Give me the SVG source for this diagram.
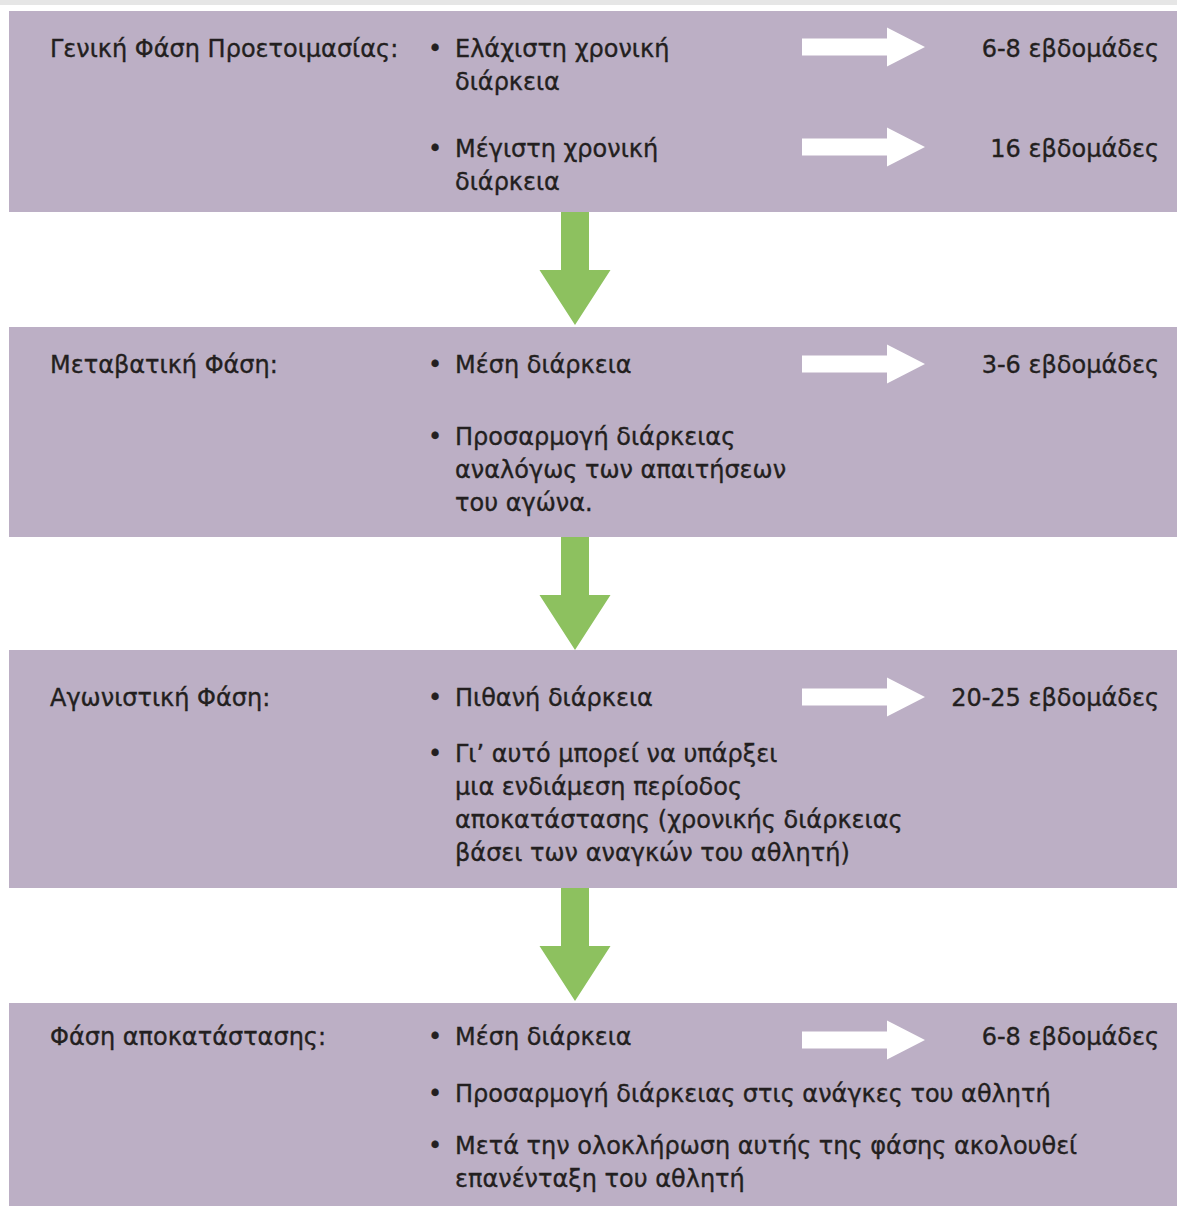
<svg xmlns="http://www.w3.org/2000/svg" width="1177" height="1206" viewBox="0 0 1177 1206">
<defs>
<style>
.box{fill:#bcafc5}
.t{font-family:"DejaVu Sans","Liberation Sans",sans-serif;font-size:24px;fill:#231f20;stroke:#231f20;stroke-width:0.35}
.r{text-anchor:end}
.wa{fill:#ffffff}
.ga{fill:#8dc15f}
</style>
<path id="warr" d="M0,-8.5 H85 V-19.5 L123,0 L85,19.5 V8.5 H0 Z"/>
<path id="garr" d="M-14,0 H14 V58 H35.5 L0,113 L-35.5,58 H-14 Z"/>
</defs>
<rect x="0" y="0" width="1177" height="5" fill="#e6e6e6"/>
<g id="connectors">
<use href="#garr" class="ga" x="575" y="212"/>
<use href="#garr" class="ga" x="575" y="537"/>
<use href="#garr" class="ga" x="575" y="888"/>
</g>
<g id="phase1">
<rect class="box" x="9" y="11" width="1168" height="201"/>
<text class="t" x="50" y="57">Γενική Φάση Προετοιμασίας:</text>
<text class="t" x="428" y="57">•</text>
<text class="t" x="455" y="57">Ελάχιστη χρονική</text>
<text class="t" x="455" y="90">διάρκεια</text>
<use href="#warr" class="wa" x="802" y="47"/>
<text class="t r" x="1159" y="57">6-8 εβδομάδες</text>
<text class="t" x="428" y="157">•</text>
<text class="t" x="455" y="157">Μέγιστη χρονική</text>
<text class="t" x="455" y="190">διάρκεια</text>
<use href="#warr" class="wa" x="802" y="147"/>
<text class="t r" x="1159" y="157">16 εβδομάδες</text>
</g>
<g id="phase2">
<rect class="box" x="9" y="327" width="1168" height="210"/>
<text class="t" x="50" y="373">Μεταβατική Φάση:</text>
<text class="t" x="428" y="373">•</text>
<text class="t" x="455" y="373">Μέση διάρκεια</text>
<use href="#warr" class="wa" x="802" y="364"/>
<text class="t r" x="1159" y="373">3-6 εβδομάδες</text>
<text class="t" x="428" y="445">•</text>
<text class="t" x="455" y="445">Προσαρμογή διάρκειας</text>
<text class="t" x="455" y="478">αναλόγως των απαιτήσεων</text>
<text class="t" x="455" y="511">του αγώνα.</text>
</g>
<g id="phase3">
<rect class="box" x="9" y="650" width="1168" height="238"/>
<text class="t" x="50" y="706">Αγωνιστική Φάση:</text>
<text class="t" x="428" y="706">•</text>
<text class="t" x="455" y="706">Πιθανή διάρκεια</text>
<use href="#warr" class="wa" x="802" y="697"/>
<text class="t r" x="1159" y="706">20-25 εβδομάδες</text>
<text class="t" x="428" y="762">•</text>
<text class="t" x="455" y="762">Γι’ αυτό μπορεί να υπάρξει</text>
<text class="t" x="455" y="795">μια ενδιάμεση περίοδος</text>
<text class="t" x="455" y="828">αποκατάστασης (χρονικής διάρκειας</text>
<text class="t" x="455" y="861">βάσει των αναγκών του αθλητή)</text>
</g>
<g id="phase4">
<rect class="box" x="9" y="1003" width="1168" height="203"/>
<text class="t" x="50" y="1045">Φάση αποκατάστασης:</text>
<text class="t" x="428" y="1045">•</text>
<text class="t" x="455" y="1045">Μέση διάρκεια</text>
<use href="#warr" class="wa" x="802" y="1040"/>
<text class="t r" x="1159" y="1045">6-8 εβδομάδες</text>
<text class="t" x="428" y="1102">•</text>
<text class="t" x="455" y="1102">Προσαρμογή διάρκειας στις ανάγκες του αθλητή</text>
<text class="t" x="428" y="1154">•</text>
<text class="t" x="455" y="1154">Μετά την ολοκλήρωση αυτής της φάσης ακολουθεί</text>
<text class="t" x="455" y="1187">επανένταξη του αθλητή</text>
</g>
</svg>
